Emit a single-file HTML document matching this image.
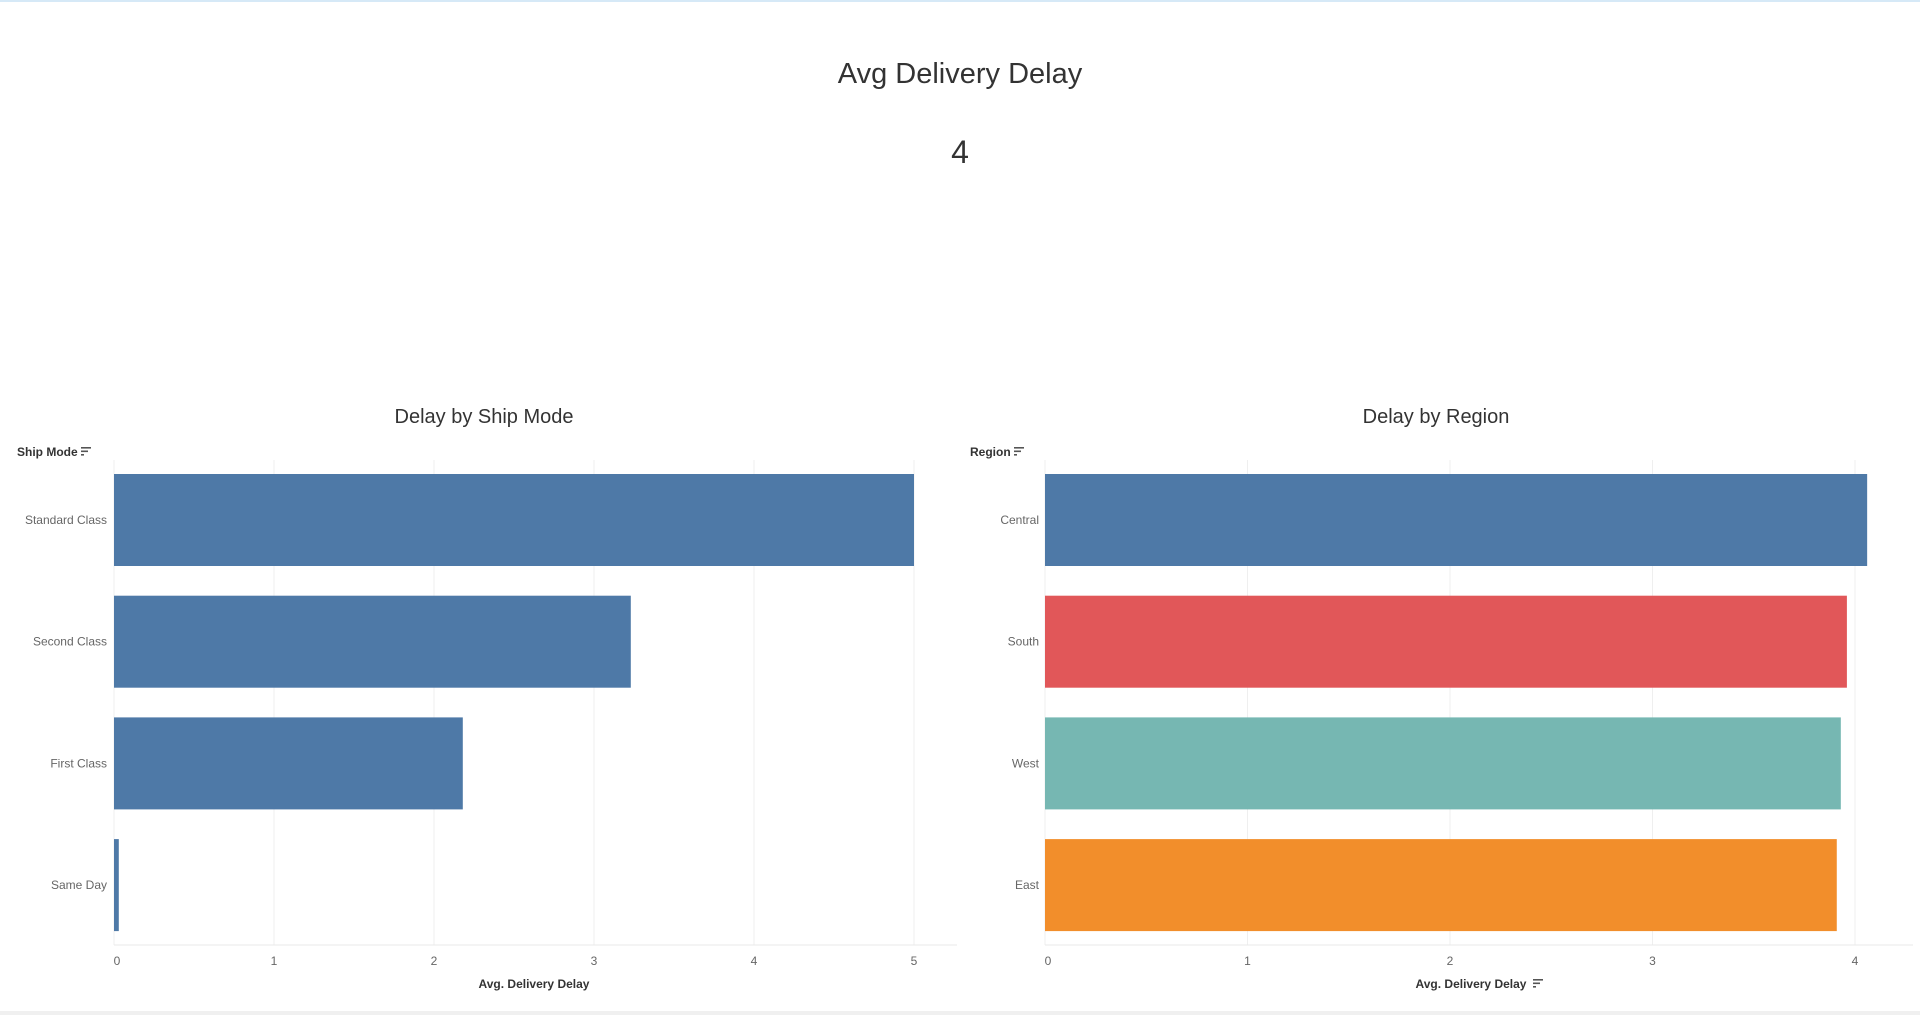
<!DOCTYPE html>
<html><head><meta charset="utf-8"><style>
html,body{margin:0;padding:0;background:#fff;width:1920px;height:1015px;overflow:hidden;font-family:"Liberation Sans",sans-serif}
svg text{font-family:"Liberation Sans",sans-serif}
</style></head><body>
<svg id="dash" width="1920" height="1015" viewBox="0 0 1920 1015">
<rect x="0" y="0" width="1920" height="2" fill="#d6e9f7"/>
<text x="960" y="83" text-anchor="middle" font-size="29" fill="#333">Avg Delivery Delay</text>
<text x="960" y="163" text-anchor="middle" font-size="32" fill="#333">4</text>
<rect x="0" y="1011" width="1920" height="4" fill="#f0f0f0"/>
<g id="left"></g>
<g id="right"></g>
</svg>
<script>
const shipCats = ["Standard Class","Second Class","First Class","Same Day"];
const shipVals = [5.0, 3.23, 2.18, 0.03];
const shipTicks = [0,1,2,3,4,5];
const regionCats = ["Central","South","West","East"];
const regionVals = [4.06, 3.96, 3.93, 3.91];
const regionColors = ["#4e79a7","#e15759","#76b7b2","#f28e2b"];
const regionTicks = [0,1,2,3,4];
const NS="http://www.w3.org/2000/svg";
function mk(parent,tag,attrs,txt){const e=document.createElementNS(NS,tag);for(const k in attrs)e.setAttribute(k,attrs[k]);if(txt!==undefined)e.textContent=txt;parent.appendChild(e);return e;}
function sortIcon(g,x,y){
  const ic=mk(g,'g',{});
  
  
  mk(ic,'rect',{x:x,y:y,width:10,height:1.6,fill:'#555'});
  mk(ic,'rect',{x:x,y:y+3.5,width:7,height:1.6,fill:'#555'});
  mk(ic,'rect',{x:x,y:y+7,width:3,height:1.6,fill:'#555'});
}
function chart(g,o){
  const x0=o.x0, unit=o.unit, top=460, bottom=945, plotR=o.plotR;
  const xs=v=>x0+v*unit;
  const ys=i=>474+i*121.7;
  const bh=92;
  let t=mk(g,'text',{x:o.tcx,y:423,'text-anchor':'middle','font-size':20,fill:'#333'},o.title);
  
  
  let h=mk(g,'text',{x:o.hx,y:456,'font-size':12,'font-weight':'bold',fill:'#333'},o.header);
  
  
  sortIcon(g,o.hx+o.hw,447);
  o.ticks.forEach(v=>{
    const l=mk(g,'line',{x1:xs(v),x2:xs(v),y1:top,y2:bottom,stroke:'#efefef','stroke-width':1});
    
    
    const tl=mk(g,'text',{x:xs(v)+(v===0?3:0),y:965,'text-anchor':'middle','font-size':12,fill:'#666'},String(v));
    
    
  });
  const ax=mk(g,'line',{x1:x0,x2:plotR,y1:bottom,y2:bottom,stroke:'#e8e8e8','stroke-width':1});
  
  
  o.cats.forEach((c,i)=>{
    const r=mk(g,'rect',{x:x0,y:ys(i),width:Math.max(0,xs(o.vals[i])-x0),height:bh,fill:o.colors[i]});
    
    
    const lb=mk(g,'text',{x:o.lx,y:ys(i)+bh/2+4,'text-anchor':'end','font-size':12,fill:'#666'},c);
    
    
  });
  const at=mk(g,'text',{x:o.acx,y:988,'text-anchor':'middle','font-size':12,'font-weight':'bold',fill:'#333'},'Avg. Delivery Delay');
  
  
  if(o.axisSort) sortIcon(g,o.acx+62,979);
}
chart(document.getElementById('left'),{x0:114,unit:160,plotR:957,tcx:484,title:'Delay by Ship Mode',hx:17,hw:64,header:'Ship Mode',ticks:shipTicks,cats:shipCats,vals:shipVals,colors:shipCats.map(()=>'#4e79a7'),lx:107,acx:534,axisSort:false});
chart(document.getElementById('right'),{x0:1045,unit:202.5,plotR:1913,tcx:1436,title:'Delay by Region',hx:970,hw:44,header:'Region',ticks:regionTicks,cats:regionCats,vals:regionVals,colors:regionColors,lx:1039,acx:1471,axisSort:true});
</script>
</body></html>
